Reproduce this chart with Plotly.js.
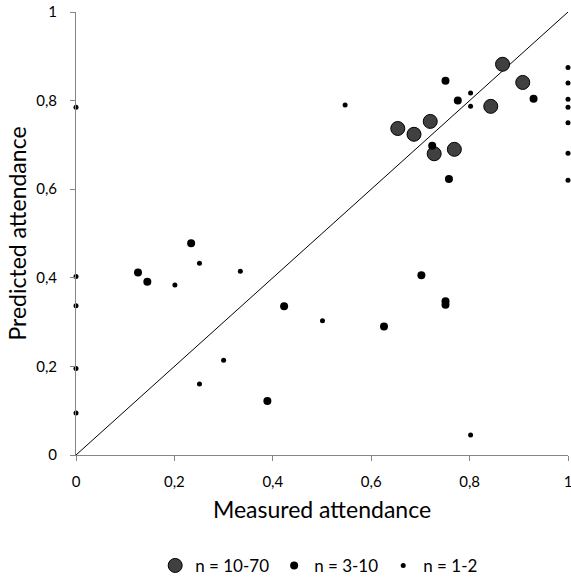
<!DOCTYPE html>
<html><head><meta charset="utf-8">
<script src="https://cdn.plot.ly/plotly-3.0.1.min.js"></script>
<style>html,body{margin:0;padding:0;background:#fff}#chart{width:571px;height:581px}</style>
</head><body><div id="chart"></div>
<script>
// n = 10-70
const bigX = [0.867, 0.908, 0.843, 0.720, 0.654, 0.687, 0.769, 0.728];
const bigY = [0.882, 0.841, 0.787, 0.753, 0.737, 0.724, 0.690, 0.680];
// n = 3-10
const medX = [0.751, 0.776, 0.930, 0.724, 0.758, 0.234, 0.126, 0.145, 0.423, 0.389, 0.702, 0.751, 0.751, 0.626];
const medY = [0.845, 0.800, 0.804, 0.698, 0.623, 0.478, 0.412, 0.391, 0.336, 0.122, 0.406, 0.347, 0.339, 0.290];
// n = 1-2
const smallX = [0.547, 0.802, 0.802, 1, 1, 1, 1, 1, 1, 1, 0, 0.251, 0.334, 0.201, 0.300, 0.251, 0, 0, 0, 0, 0.501, 0.802];
const smallY = [0.790, 0.817, 0.787, 0.875, 0.840, 0.803, 0.785, 0.750, 0.681, 0.620, 0.785, 0.433, 0.415, 0.384, 0.214, 0.160, 0.403, 0.337, 0.195, 0.095, 0.303, 0.045];
const lineX = [0, 1];
const lineY = [0, 1];
const tickVals = [0, 0.2, 0.4, 0.6, 0.8, 1];
const tickText = ["0", "0,2", "0,4", "0,6", "0,8", "1"];
const names = ["n = 10-70", "n = 3-10", "n = 1-2"];

const font = "Lato, 'Open Sans', sans-serif";
const data = [
  {x: lineX, y: lineY, mode: "lines", line: {color: "#000", width: 1}, showlegend: false, hoverinfo: "skip", cliponaxis: false},
  {x: bigX, y: bigY, mode: "markers", name: names[0], cliponaxis: false,
   marker: {size: 14, color: "#404040", line: {color: "#000", width: 1}}},
  {x: medX, y: medY, mode: "markers", name: names[1], cliponaxis: false,
   marker: {size: 8, color: "#000"}},
  {x: smallX, y: smallY, mode: "markers", name: names[2], cliponaxis: false,
   marker: {size: 5, color: "#000"}}
];
const axisCommon = {
  range: [0, 1], tickmode: "array", tickvals: tickVals, ticktext: tickText,
  showgrid: false, zeroline: false, ticklabeloverflow: "allow",
  showline: true, linecolor: "#868686", linewidth: 1, ticks: "outside",
  ticklen: 5, tickcolor: "#868686", tickfont: {family: font, size: 15, color: "#000"}
};
const layout = {
  width: 571, height: 581,
  margin: {l: 75.5, r: 2.5, t: 12.3, b: 126.2},
  paper_bgcolor: "#fff", plot_bgcolor: "#fff",
  font: {family: font, color: "#000"},
  xaxis: Object.assign({}, axisCommon, {ticklabelstandoff: 8,
    title: {text: "Measured attendance", font: {family: font, size: 23}, standoff: 12}}),
  yaxis: Object.assign({}, axisCommon, {ticklabelstandoff: 10,
    title: {text: "Predicted attendance", font: {family: font, size: 23}, standoff: 3}}),
  legend: {orientation: "h", xref: "container", yref: "container",
    x: 0.559, xanchor: "center", y: 0.026, yanchor: "middle",
    font: {family: font, size: 17}, itemwidth: 20, traceorder: "normal"},
  showlegend: true
};
Plotly.newPlot("chart", data, layout, {staticPlot: true});
</script></body></html>
